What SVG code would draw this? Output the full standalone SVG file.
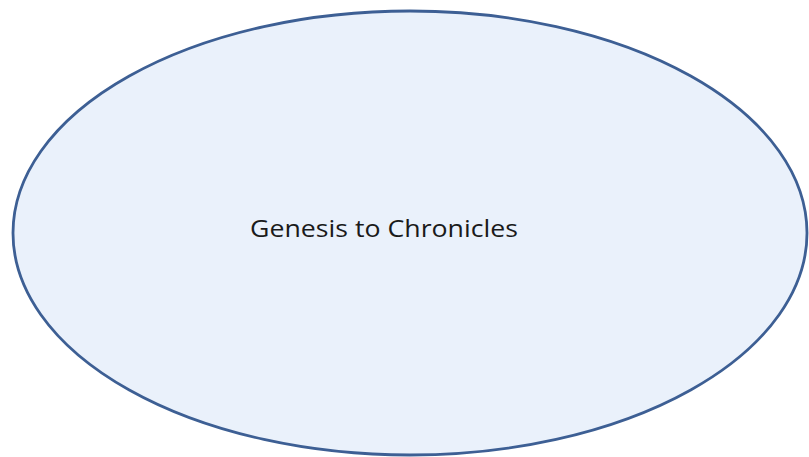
<svg xmlns="http://www.w3.org/2000/svg" width="809" height="457" viewBox="0 0 809 457">
<style>
.node{fill:#EAF1FB;stroke:#3D5F94;stroke-width:2.8}
.lbl{font-family:"Open Sans","Liberation Sans",sans-serif;font-size:24px;fill:#1a1a1a}
</style>
<rect width="809" height="457" fill="#ffffff"/>
<g id="connectors"></g>
<g id="node-genesis">
<ellipse class="node" cx="410" cy="233" rx="397" ry="222"/>
<text class="lbl" x="250" y="237" textLength="268" lengthAdjust="spacingAndGlyphs">Genesis to Chronicles</text>
</g>
</svg>
